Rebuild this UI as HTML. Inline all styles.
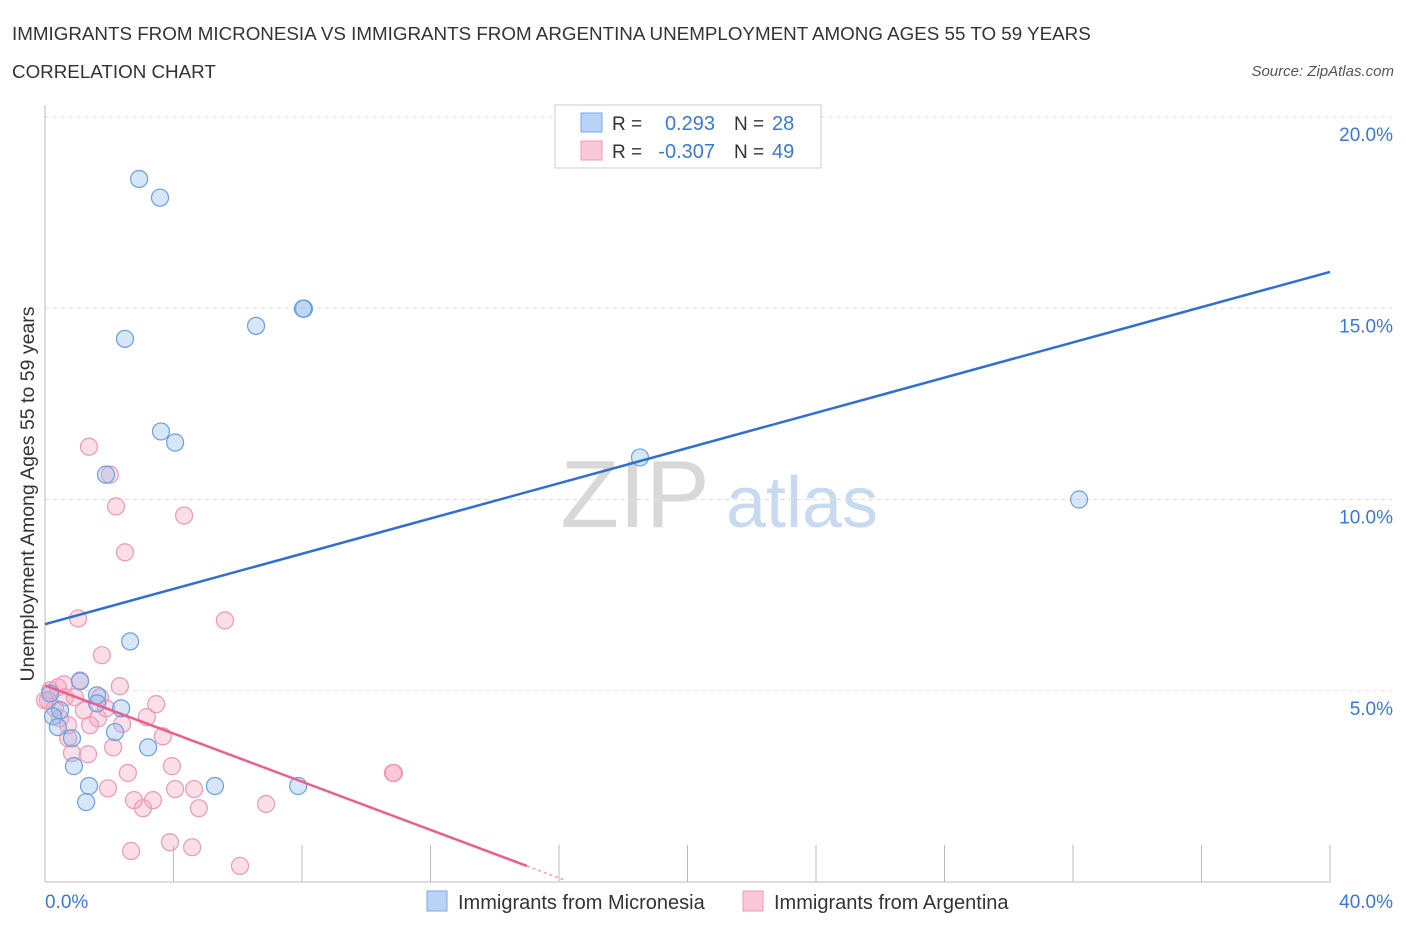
<!DOCTYPE html>
<html><head><meta charset="utf-8"><style>
body{margin:0;background:#fff;font-family:"Liberation Sans",sans-serif;}
svg text{font-family:"Liberation Sans",sans-serif;}
</style></head><body>
<svg id="chart" width="1406" height="930" xmlns="http://www.w3.org/2000/svg">
<text x="12" y="40" font-size="18.8" fill="#333">IMMIGRANTS FROM MICRONESIA VS IMMIGRANTS FROM ARGENTINA UNEMPLOYMENT AMONG AGES 55 TO 59 YEARS</text>
<text x="12" y="78" font-size="18.8" fill="#333">CORRELATION CHART</text>
<text x="1394" y="76" font-size="15" fill="#555" text-anchor="end" font-style="italic">Source: ZipAtlas.com</text>
<g>
<text x="635" y="527" font-size="96" fill="#d8d8d8" text-anchor="middle" font-family="Liberation Serif">ZIP</text>
<text x="802" y="527" font-size="72" fill="#c8daf0" text-anchor="middle">atlas</text>
</g>
<g id="grid"></g>
<g id="axes"></g>
<g id="marks"></g>
<text transform="translate(34,494) rotate(-90)" font-size="19.5" fill="#333" text-anchor="middle">Unemployment Among Ages 55 to 59 years</text>
<g>
<rect x="555" y="105" width="266" height="63" fill="#fff" stroke="#ccc"/>
<rect x="581" y="113" width="21" height="19" fill="#b8d3f5" stroke="#7aa8e6"/>
<text x="612" y="130" font-size="19" fill="#333">R =</text>
<text x="715" y="130" font-size="20" fill="#3b78d6" text-anchor="end">0.293</text>
<text x="734" y="130" font-size="19" fill="#333">N =</text>
<text x="772" y="130" font-size="20" fill="#3b78d6">28</text>
<rect x="581" y="141" width="21" height="19" fill="#fbc8d8" stroke="#eb9ab4"/>
<text x="612" y="158" font-size="19" fill="#333">R =</text>
<text x="715" y="158" font-size="20" fill="#3b78d6" text-anchor="end">-0.307</text>
<text x="734" y="158" font-size="19" fill="#333">N =</text>
<text x="772" y="158" font-size="20" fill="#3b78d6">49</text>
</g>
<g>
<rect x="427" y="891" width="20" height="20" fill="#b8d3f5" stroke="#7aa8e6"/>
<text x="458" y="909" font-size="20" fill="#333">Immigrants from Micronesia</text>
<rect x="743" y="891" width="20" height="20" fill="#fbc8d8" stroke="#eb9ab4"/>
<text x="774" y="909" font-size="20" fill="#333">Immigrants from Argentina</text>
</g>
</svg>
<script>
const blueX=[2.93,3.58,6.57,8.06,8.03,2.49,3.61,4.05,1.90,18.52,32.19,2.65,1.09,1.62,1.62,0.47,0.25,0.16,2.37,0.40,0.84,2.18,3.21,0.90,1.37,1.28,5.29,7.88];
const blueY=[18.38,17.89,14.54,14.99,14.99,14.20,11.78,11.49,10.65,11.10,10.0,6.29,5.25,4.88,4.67,4.49,4.33,4.93,4.54,4.05,3.76,3.92,3.52,3.03,2.51,2.09,2.51,2.51];
const pinkX=[1.37,2.02,2.21,4.33,2.49,1.03,5.60,1.77,0.59,1.09,2.33,0.16,0.40,0.09,0.62,0.93,1.71,0.31,0.47,1.21,1.65,1.90,3.46,3.17,3.67,2.40,0.72,0.84,1.34,2.12,2.58,3.95,1.96,2.77,3.36,3.05,4.05,4.64,4.79,6.88,10.86,10.83,3.89,2.68,4.58,6.07,0.72,0,1.40];
const pinkY=[11.38,10.65,9.82,9.58,8.62,6.89,6.84,5.93,5.17,5.27,5.12,5.01,5.09,4.75,4.83,4.83,4.83,4.54,4.28,4.49,4.28,4.54,4.65,4.31,3.81,4.13,3.76,3.37,3.34,3.52,2.85,3.03,2.45,2.14,2.14,1.93,2.43,2.43,1.93,2.04,2.85,2.85,1.04,0.81,0.91,0.42,4.10,4.75,4.10];
const blueTrend=[6.74,15.95];
const pinkTrend=[5.14,0.42];
const pinkTrendEnd=15.0;
const yTicks=[5,10,15,20];
const yTickLabels=["5.0%","10.0%","15.0%","20.0%"];
const xTickCount=10;
const NS="http://www.w3.org/2000/svg";
const sx=v=>45+v/40*1285, sy=v=>882-v/20*765;
function mk(tag,attrs,parent){const e=document.createElementNS(NS,tag);for(const k in attrs)e.setAttribute(k,attrs[k]);document.getElementById(parent).appendChild(e);return e;}
yTicks.forEach((t,i)=>{
 const g=mk('line',{x1:45,x2:1392,y1:sy(t),y2:sy(t),stroke:'#ddd','stroke-dasharray':'4,4'},'grid');
 
 
 const l=mk('text',{x:1393,y:sy(t)+24,'font-size':19,fill:'#3b78d6','text-anchor':'end'},'axes');
 l.textContent=yTickLabels[i];
 
 
});
const ax=mk('line',{x1:45,x2:45,y1:105,y2:882,stroke:'#bbb'},'axes');


const bx=mk('line',{x1:45,x2:1330,y1:882,y2:882,stroke:'#bbb'},'axes');


for(let i=1;i<=xTickCount;i++){
 const t=mk('line',{x1:sx(i*4),x2:sx(i*4),y1:845,y2:882,stroke:'#bbb'},'axes');
 
 
}
const x0=mk('text',{x:45,y:908,'font-size':19,fill:'#3b78d6'},'axes');x0.textContent='0.0%';


const x1=mk('text',{x:1393,y:908,'font-size':19,fill:'#3b78d6','text-anchor':'end'},'axes');x1.textContent='40.0%';


pinkX.forEach((x,i)=>{
 const c=mk('circle',{cx:sx(x),cy:sy(pinkY[i]),r:8.5,fill:'rgba(245,160,190,0.35)',stroke:'#eb9ab4','stroke-width':1.2},'marks');
 
 
});
blueX.forEach((x,i)=>{
 const c=mk('circle',{cx:sx(x),cy:sy(blueY[i]),r:8.5,fill:'rgba(140,185,240,0.35)',stroke:'#6a9fe0','stroke-width':1.2},'marks');
 
 
});
const bt=mk('line',{x1:sx(0),y1:sy(blueTrend[0]),x2:sx(40),y2:sy(blueTrend[1]),stroke:'#2f6fd0','stroke-width':2.5},'marks');


const pt=mk('line',{x1:sx(0),y1:sy(pinkTrend[0]),x2:sx(pinkTrendEnd),y2:sy(pinkTrend[1]),stroke:'#e8608e','stroke-width':2.5},'marks');


const slope=(pinkTrend[1]-pinkTrend[0])/pinkTrendEnd;
const pd=mk('line',{x1:sx(pinkTrendEnd),y1:sy(pinkTrend[1]),x2:sx(pinkTrendEnd+1.2),y2:sy(pinkTrend[1]+slope*1.2),stroke:'#e8a0b8','stroke-width':1.5,'stroke-dasharray':'3,3'},'marks');


</script>
</body></html>
